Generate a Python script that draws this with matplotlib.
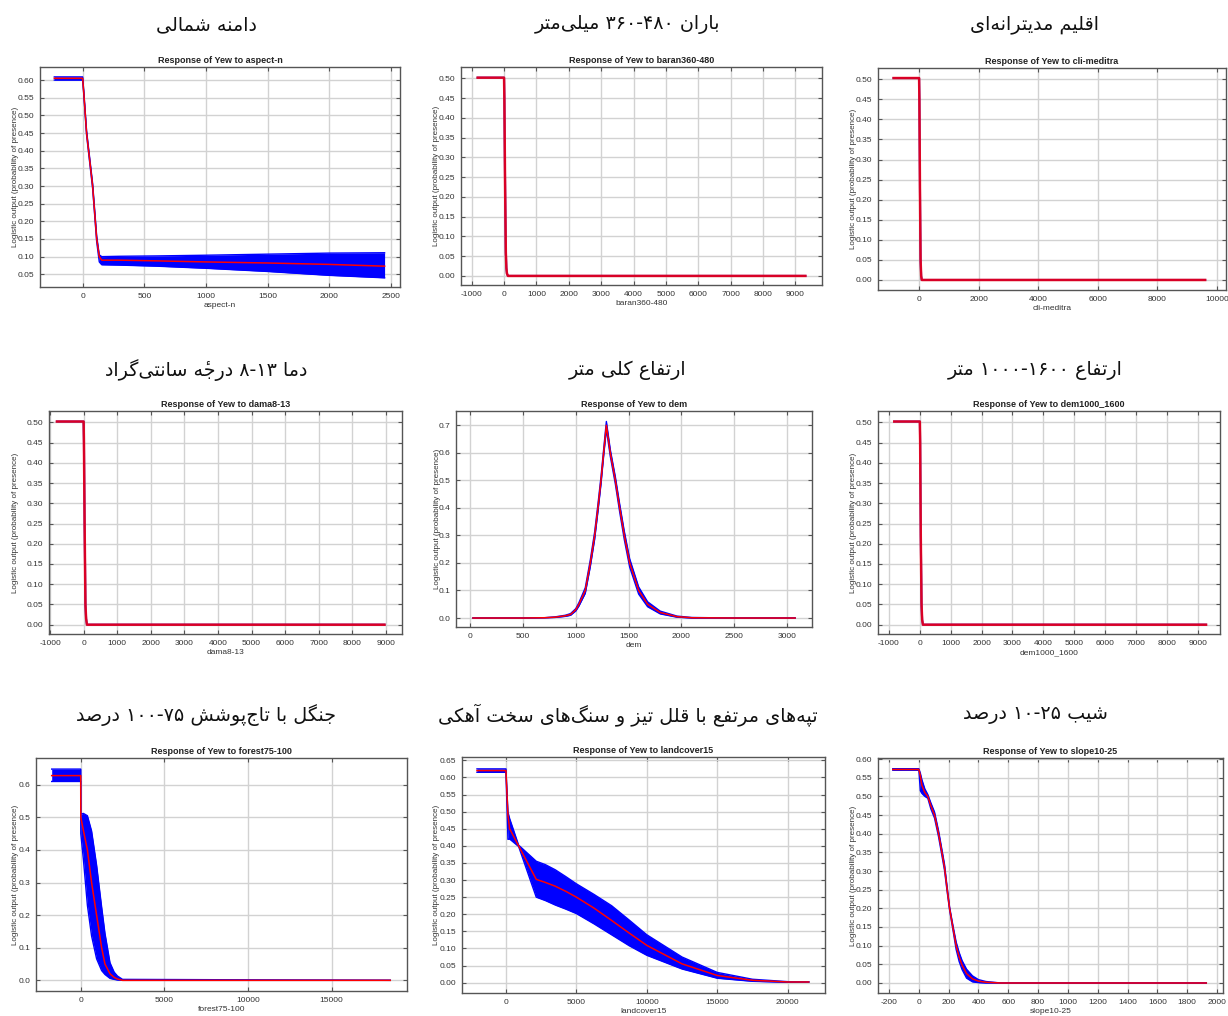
import matplotlib
matplotlib.use("Agg")
import matplotlib.pyplot as plt
from matplotlib.ticker import MultipleLocator, FormatStrFormatter

W, H = 1228, 1016

# ---- data (x, mean, lower, upper) ----
ASPECT_X = [-230, 0, 10, 32, 81, 114, 135, 155, 300, 600, 1000, 1500, 2000, 2450]
ASPECT_MEAN = [0.605, 0.605, 0.56, 0.45, 0.30, 0.15, 0.10, 0.09, 0.09, 0.088, 0.085, 0.082, 0.078, 0.073]
ASPECT_HI = [0.609, 0.609, 0.565, 0.456, 0.307, 0.158, 0.105, 0.10, 0.101, 0.102, 0.104, 0.107, 0.110, 0.111]
ASPECT_LO = [0.600, 0.600, 0.555, 0.444, 0.293, 0.142, 0.085, 0.077, 0.076, 0.073, 0.067, 0.058, 0.047, 0.040]

BARAN_X = [-815, 0, 10, 30, 55, 72, 90, 120, 9310]
BARAN_MEAN = [0.502, 0.502, 0.45, 0.25, 0.06, 0.02, 0.006, 0.0, 0.0]

CLI_X = [-856, 0, 10, 30, 50, 70, 90, 9600]
CLI_MEAN = [0.503, 0.503, 0.45, 0.22, 0.05, 0.01, 0.0, 0.0]

DAMA_X = [-794, 0, 10, 30, 55, 75, 100, 8958]
DAMA_MEAN = [0.502, 0.502, 0.45, 0.25, 0.05, 0.015, 0.0, 0.0]

DEM_X = [25, 500, 700, 800, 900, 950, 1000, 1030, 1060, 1090, 1138, 1179, 1210, 1239,
         1264, 1290, 1327, 1375, 1416, 1460, 1511, 1596, 1681, 1801, 1960, 2100, 2500, 3080]
DEM_MEAN = [0, 0, 0.001, 0.003, 0.008, 0.013, 0.03, 0.05, 0.075, 0.10, 0.20, 0.30, 0.40, 0.50,
            0.60, 0.70, 0.60, 0.50, 0.40, 0.30, 0.20, 0.10, 0.05, 0.02, 0.005, 0.001, 0, 0]
DEM_SD = [0, 0, 0, 0.001, 0.002, 0.003, 0.004, 0.006, 0.008, 0.01, 0.012, 0.013, 0.013, 0.013,
          0.012, 0.014, 0.012, 0.013, 0.014, 0.015, 0.015, 0.013, 0.009, 0.005, 0.002, 0.001, 0, 0]

DEM16_X = [-829, 0, 10, 30, 55, 75, 100, 9268]
DEM16_MEAN = [0.502, 0.502, 0.45, 0.22, 0.05, 0.012, 0.0, 0.0]

FOREST_X = [-1734, 0, 5, 160, 400, 650, 950, 1250, 1450, 1750, 2000, 2200, 2500, 18500]
FOREST_MEAN = [0.628, 0.628, 0.50, 0.46, 0.40, 0.30, 0.20, 0.10, 0.05, 0.02, 0.009, 0.004, 0.0, 0.0]
FOREST_HI = [0.648, 0.648, 0.51, 0.512, 0.505, 0.458, 0.353, 0.225, 0.144, 0.054, 0.025, 0.013, 0.003, 0.0]
FOREST_LO = [0.61, 0.61, 0.45, 0.371, 0.23, 0.136, 0.066, 0.030, 0.018, 0.006, 0.003, 0.001, 0.0, 0.0]

LAND_X = [-2057, 0, 140, 260, 900, 2150, 2800, 3500, 4250, 5000, 6250, 7500, 8750, 10000,
          12500, 15000, 17500, 20000, 21500]
LAND_MEAN = [0.62, 0.62, 0.49, 0.45, 0.40, 0.302, 0.293, 0.282, 0.267, 0.25, 0.218, 0.182, 0.145, 0.109,
             0.055, 0.021, 0.007, 0.002, 0.002]
LAND_HI = [0.625, 0.625, 0.499, 0.48, 0.402, 0.355, 0.345, 0.33, 0.31, 0.289, 0.258, 0.225, 0.183, 0.14,
           0.075, 0.03, 0.01, 0.003, 0.002]
LAND_LO = [0.615, 0.615, 0.419, 0.42, 0.398, 0.25, 0.24, 0.227, 0.215, 0.202, 0.172, 0.14, 0.108, 0.08,
           0.04, 0.013, 0.004, 0.001, 0.002]

SLOPE_X = [-175, 0, 10, 20, 40, 60, 80, 105, 132, 150, 172, 190, 206, 230, 250, 270, 290, 320, 360, 400, 450, 550, 1928]
SLOPE_MEAN = [0.572, 0.572, 0.555, 0.53, 0.51, 0.50, 0.475, 0.45, 0.40, 0.36, 0.31, 0.25, 0.20, 0.145,
              0.10, 0.07, 0.048, 0.025, 0.011, 0.005, 0.002, 0.0, 0.0]
SLOPE_HI = [0.574, 0.574, 0.562, 0.545, 0.52, 0.505, 0.483, 0.458, 0.408, 0.368, 0.318, 0.256, 0.204, 0.151,
            0.11, 0.082, 0.06, 0.037, 0.019, 0.009, 0.004, 0.0, 0.0]
SLOPE_LO = [0.570, 0.570, 0.515, 0.508, 0.50, 0.495, 0.467, 0.442, 0.392, 0.352, 0.302, 0.244, 0.196, 0.139,
            0.09, 0.058, 0.036, 0.013, 0.003, 0.001, 0.0, 0.0, 0.0]

TITLES_FA = [
    "دامنه شمالی",
    "باران ۴۸۰-۳۶۰ میلی\u200cمتر",
    "اقلیم مدیترانه\u200cای",
    "دما ۱۳-۸ درجه\u0654 سانتی\u200cگراد",
    "ارتفاع کلی متر",
    "ارتفاع ۱۶۰۰-۱۰۰۰ متر",
    "جنگل با تاج\u200cپوشش ۷۵-۱۰۰ درصد",
    "تپه\u200cهای مرتفع با قلل تیز و سنگ\u200cهای سخت آهکی",
    "شیب ۲۵-۱۰ درصد",
]

# ---- tiny Persian shaper (matplotlib has no bidi / joining) ----
FORMS = {  # isolated, final, initial, medial
    "ا": ("\uFE8D", "\uFE8E", None, None),
    "آ": ("\uFE81", "\uFE82", None, None),
    "ب": ("\uFE8F", "\uFE90", "\uFE91", "\uFE92"),
    "پ": ("\uFB56", "\uFB57", "\uFB58", "\uFB59"),
    "ت": ("\uFE95", "\uFE96", "\uFE97", "\uFE98"),
    "ج": ("\uFE9D", "\uFE9E", "\uFE9F", "\uFEA0"),
    "خ": ("\uFEA5", "\uFEA6", "\uFEA7", "\uFEA8"),
    "د": ("\uFEA9", "\uFEAA", None, None),
    "ر": ("\uFEAD", "\uFEAE", None, None),
    "ز": ("\uFEAF", "\uFEB0", None, None),
    "س": ("\uFEB1", "\uFEB2", "\uFEB3", "\uFEB4"),
    "ش": ("\uFEB5", "\uFEB6", "\uFEB7", "\uFEB8"),
    "ص": ("\uFEB9", "\uFEBA", "\uFEBB", "\uFEBC"),
    "ع": ("\uFEC9", "\uFECA", "\uFECB", "\uFECC"),
    "ف": ("\uFED1", "\uFED2", "\uFED3", "\uFED4"),
    "ق": ("\uFED5", "\uFED6", "\uFED7", "\uFED8"),
    "ک": ("\uFB8E", "\uFB8F", "\uFB90", "\uFB91"),
    "گ": ("\uFB92", "\uFB93", "\uFB94", "\uFB95"),
    "ل": ("\uFEDD", "\uFEDE", "\uFEDF", "\uFEE0"),
    "م": ("\uFEE1", "\uFEE2", "\uFEE3", "\uFEE4"),
    "ن": ("\uFEE5", "\uFEE6", "\uFEE7", "\uFEE8"),
    "ه": ("\uFEE9", "\uFEEA", "\uFEEB", "\uFEEC"),
    "و": ("\uFEED", "\uFEEE", None, None),
    "ی": ("\uFBFC", "\uFBFD", "\uFBFE", "\uFBFF"),
}
MARK = "\u0654"


def shape_fa(text):
    chars = list(text)

    def near(i, step):
        j = i + step
        while 0 <= j < len(chars) and chars[j] == MARK:
            j += step
        return chars[j] if 0 <= j < len(chars) else None

    out = []
    for i, c in enumerate(chars):
        if c not in FORMS:
            if c != "\u200c":
                out.append(c)
            continue
        prev, nxt = near(i, -1), near(i, 1)
        jp = prev in FORMS and FORMS[prev][2] is not None
        jn = FORMS[c][2] is not None and nxt in FORMS
        iso, fin, ini, med = FORMS[c]
        out.append(med if jp and jn else fin if jp else ini if jn else iso)

    # visual order: reverse, keep digit runs LTR and marks after their base
    tokens = []
    for g in out:
        if tokens and (g == MARK or (g.isdigit() and tokens[-1][-1].isdigit())):
            tokens[-1] += g
        else:
            tokens.append(g)
    return "".join(tokens[::-1])


plt.rcParams["font.family"] = ["Liberation Sans", "DejaVu Sans"]
plt.rcParams["axes.unicode_minus"] = False

fig = plt.figure(figsize=(W / 100, H / 100), dpi=100)


def add_axes(l, t, r, b):
    return fig.add_axes([l / W, 1 - b / H, (r - l) / W, (b - t) / H])


def panel(box, x, mean, lo, hi, name, xlim, ylim, xstep, ystep, yfmt, ylab_off, band=True):
    ax = add_axes(*box)
    if band:
        ax.fill_between(x, lo, hi, color="#0000ff", lw=0, zorder=2)
        ax.plot(x, lo, color="#0000ff", lw=1.0, zorder=2)
        ax.plot(x, hi, color="#0000ff", lw=1.0, zorder=2)
        ax.plot(x, mean, color="#ff0000", lw=1.1, zorder=3)
    else:
        # sd ~ 0: blue band lines hidden under the mean curve
        ax.plot(x, lo, color="#0000ff", lw=1.5, zorder=2)
        ax.plot(x, mean, color="#ff0000", lw=1.8, alpha=0.85, zorder=3)
    ax.set_xlim(*xlim)
    ax.set_ylim(*ylim)
    ax.xaxis.set_major_locator(MultipleLocator(xstep))
    ax.yaxis.set_major_locator(MultipleLocator(ystep))
    ax.yaxis.set_major_formatter(FormatStrFormatter(yfmt))
    ax.set_axisbelow(True)
    ax.grid(True, color="#d2d2d2", lw=1.0)
    for s in ax.spines.values():
        s.set_color("#555555")
        s.set_linewidth(1.0)
    ax.tick_params(direction="in", length=3, width=0.8, color="#555555",
                   labelsize=6, labelcolor="#333333", pad=4,
                   top=True, right=True)
    ax.set_title("Response of Yew to " + name, fontsize=6.5, fontweight="bold",
                 color="#222222", pad=3)
    ax.set_xlabel(name, fontsize=6, color="#333333", labelpad=2)
    ax.set_ylabel("Logistic output (probability of presence)", fontsize=5.8, color="#333333")
    ax.yaxis.set_label_coords(-(ylab_off - 4) / (box[2] - box[0]), 0.5)
    return ax


panel((40, 67, 400, 287), ASPECT_X, ASPECT_MEAN, ASPECT_LO, ASPECT_HI, "aspect-n",
      (-346, 2575), (0.014, 0.637), 500, 0.05, "%.2f", 25)
panel((461, 67, 822, 285), BARAN_X, BARAN_MEAN, BARAN_MEAN, BARAN_MEAN, "baran360-480",
      (-1330, 9824), (-0.023, 0.529), 1000, 0.05, "%.2f", 25, band=False)
panel((878, 68, 1226, 290), CLI_X, CLI_MEAN, CLI_MEAN, CLI_MEAN, "cli-meditra",
      (-1379, 10300), (-0.025, 0.528), 2000, 0.05, "%.2f", 25, band=False)

panel((49, 411, 402, 634), DAMA_X, DAMA_MEAN, DAMA_MEAN, DAMA_MEAN, "dama8-13",
      (-1030, 9480), (-0.023, 0.528), 1000, 0.05, "%.2f", 34, band=False)
dem_lo = [m - s for m, s in zip(DEM_MEAN, DEM_SD)]
dem_hi = [m + s for m, s in zip(DEM_MEAN, DEM_SD)]
panel((456, 411, 812, 627), DEM_X, DEM_MEAN, dem_lo, dem_hi, "dem",
      (-136, 3240), (-0.0326, 0.752), 500, 0.1, "%.1f", 19)
panel((878, 411, 1220, 634), DEM16_X, DEM16_MEAN, DEM16_MEAN, DEM16_MEAN, "dem1000_1600",
      (-1355, 9720), (-0.023, 0.528), 1000, 0.05, "%.2f", 25, band=False)

panel((36, 758, 407, 991), FOREST_X, FOREST_MEAN, FOREST_LO, FOREST_HI, "forest75-100",
      (-2672, 19500), (-0.0327, 0.682), 5000, 0.1, "%.1f", 21)
panel((462, 757, 825, 993), LAND_X, LAND_MEAN, LAND_LO, LAND_HI, "landcover15",
      (-3120, 22650), (-0.0302, 0.6597), 5000, 0.05, "%.2f", 26)
panel((878, 758, 1223, 993), SLOPE_X, SLOPE_MEAN, SLOPE_LO, SLOPE_HI, "slope10-25",
      (-274, 2040), (-0.0268, 0.6027), 200, 0.05, "%.2f", 25)

# Persian headings above each panel
centers_x = [206, 628, 1035]
centers_y = [25, 370, 715]
for k, t in enumerate(TITLES_FA):
    cx, cy = centers_x[k % 3], centers_y[k // 3]
    fig.text(cx / W, 1 - cy / H, shape_fa(t), ha="center", va="center",
             fontsize=13.8, family=["DejaVu Sans"], color="#111111")

fig.savefig("out.png", dpi=100, facecolor="white")
